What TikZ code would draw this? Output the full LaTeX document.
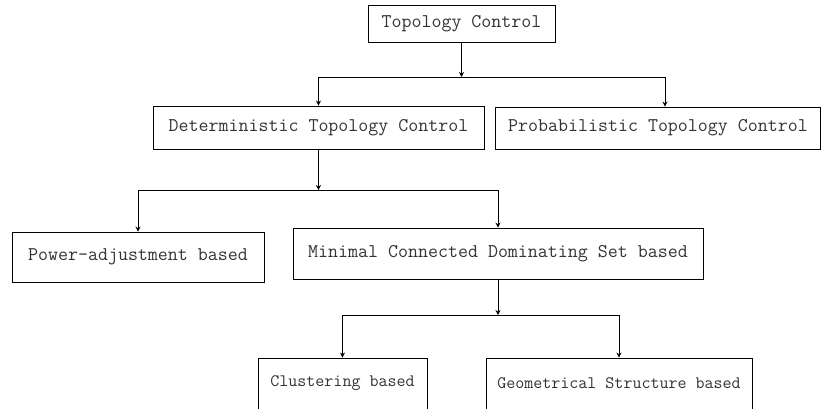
\documentclass[tikz,border=0pt]{standalone}
\usepackage{fontspec}
\usetikzlibrary{arrows.meta}
\begin{document}
\begin{tikzpicture}[x=1pt,y=-1pt,
  box/.style={draw, line width=0.9pt, inner sep=0pt, font=\ttfamily\fontsize{19.4}{21}\selectfont, text=black!80},
  small/.style={font=\ttfamily\fontsize{17.5}{19}\selectfont},
  arr/.style={-{Stealth[length=5pt,width=5pt]}, line width=0.9pt},
  ln/.style={line width=0.9pt}]
\useasboundingbox (0,0) rectangle (822,408);
\clip (0,0) rectangle (822,408);
\node[box, minimum width=187pt, minimum height=37pt] (tc) at (461.5,23.5) {Topology Control};
\node[box, minimum width=331pt, minimum height=43pt] (det) at (318.5,127.5) {Deterministic Topology Control};
\node[box, minimum width=325pt, minimum height=42pt] (prob) at (658,128) {Probabilistic Topology Control};
\node[box, minimum width=252pt, minimum height=50pt] (pow) at (138,257) {Power-adjustment based};
\node[box, minimum width=410pt, minimum height=51pt] (mcds) at (498,253.5) {Minimal Connected Dominating Set based};
\node[box, small, minimum width=169pt, minimum height=51pt] (clu) at (342.5,383.5) {Clustering based};
\node[box, small, minimum width=266pt, minimum height=51pt] (geo) at (619,383.5) {Geometrical Structure based};
% level 1
\coordinate (l1) at (318.5,77);
\coordinate (r1) at (665,77);
\draw[arr] (tc.south) -- (tc.south |- l1);
\draw[ln] (l1) -- (r1);
\draw[arr] (l1) -- (l1 |- det.north);
\draw[arr] (r1) -- (r1 |- prob.north);
% level 2
\coordinate (l2) at (138,190);
\coordinate (r2) at (498,190);
\draw[arr] (det.south) -- (det.south |- l2);
\draw[ln] (l2) -- (r2);
\draw[arr] (l2) -- (l2 |- pow.north);
\draw[arr] (r2) -- (r2 |- mcds.north);
% level 3
\coordinate (l3) at (342.5,315);
\coordinate (r3) at (619,315);
\draw[arr] (mcds.south) -- (mcds.south |- l3);
\draw[ln] (l3) -- (r3);
\draw[arr] (l3) -- (l3 |- clu.north);
\draw[arr] (r3) -- (r3 |- geo.north);
\end{tikzpicture}
\end{document}
